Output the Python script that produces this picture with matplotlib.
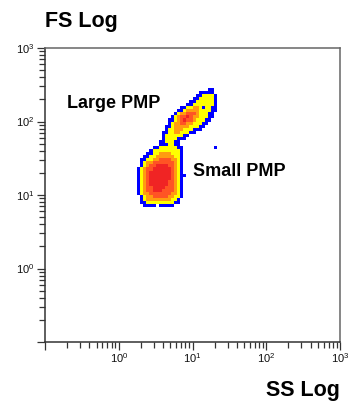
import numpy as np
import matplotlib
matplotlib.use("Agg")
import matplotlib.pyplot as plt
from matplotlib import font_manager
from matplotlib.colors import ListedColormap, BoundaryNorm
from matplotlib.ticker import LogLocator, FuncFormatter, NullFormatter, FixedLocator

# ---- data -------------------------------------------------------------
# Event density on a log grid (24 bins per decade). Each row gives the first
# occupied SS bin and the run of density levels from there
# (. = no events, 1..5 = increasing event density); rows go from high FS down.
bins_per_decade = 24
ss_first_bin = 6      # first SS bin edge, in bins above 10^0
fs_first_bin = 19     # lowest FS bin edge, in bins above 10^0
ss_bin_count = 27
event_density = [
    (0, ""),
    (23, "11"),
    (20, "11111"),
    (19, "1122221"),
    (18, "11222221"),
    (17, "112222221"),
    (16, "1122222221"),
    (14, "112233212211"),
    (13, "1123333222211"),
    (12, "1233444322211"),
    (11, "12344543322211"),
    (10, "11234544322211"),
    (10, "1233443322211"),
    (9, "1123333322211"),
    (9, "122333222111"),
    (8, "11223322211"),
    (8, "122222211"),
    (8, "12222111"),
    (7, "1122211"),
    (7, "1112211"),
    (5, "1122222211..........1"),
    (4, "12222222221"),
    (3, "112233332221"),
    (2, "1122333333221"),
    (1, "11223344443321"),
    (1, "12334444444321"),
    (1, "12344555544321"),
    (0, "123445555554321"),
    (0, "123455555554321"),
    (0, "1234555555543211"),
    (0, "123455555554321"),
    (0, "123455555544321"),
    (0, "123455555544321"),
    (0, "123445555444321"),
    (0, "123445554444321"),
    (0, "123344444443321"),
    (1, "12334444433221"),
    (1, "1233333333221"),
    (1, "1122222222211"),
    (2, "1111.11111"),
    (0, ""),
]

ss_ticks = [0.1, 1, 10, 100, 1000]
fs_ticks = [0.1, 1, 10, 100, 1000]
ss_range = (0.1, 1000)
fs_range = (0.1, 1000)

# ---- fonts ------------------------------------------------------------
installed = {f.name for f in font_manager.fontManager.ttflist}
narrow = "Liberation Sans Narrow" if "Liberation Sans Narrow" in installed else "Liberation Sans"
plt.rcParams["font.family"] = ["Liberation Sans", "DejaVu Sans"]
plt.rcParams["mathtext.fontset"] = "custom"
plt.rcParams["mathtext.rm"] = narrow
plt.rcParams["mathtext.it"] = narrow
plt.rcParams["mathtext.bf"] = narrow

# ---- density grid -------------------------------------------------------
grid = np.zeros((len(event_density), ss_bin_count), dtype=int)
for r, (start, run) in enumerate(event_density):
    for k, ch in enumerate(run):
        if ch != ".":
            grid[r, start + k] = int(ch)
grid = grid[::-1]  # lowest FS row first for pcolormesh
n_rows, n_cols = grid.shape
ss_edges = 10.0 ** (np.arange(ss_first_bin, ss_first_bin + n_cols + 1) / bins_per_decade)
fs_edges = 10.0 ** (np.arange(fs_first_bin, fs_first_bin + n_rows + 1) / bins_per_decade)
density = np.ma.masked_equal(grid, 0)

cmap = ListedColormap(["#0000ff", "#ffff00", "#ff9c10", "#ff5424", "#f02424"])
norm = BoundaryNorm([0.5, 1.5, 2.5, 3.5, 4.5, 5.5], cmap.N)

fig = plt.figure(figsize=(3.55, 4.07), dpi=100)
ax = fig.add_axes([45 / 355, 65 / 407, 295 / 355, 294 / 407])
ax.pcolormesh(ss_edges, fs_edges, density, cmap=cmap, norm=norm, shading="flat")

ax.set_xscale("log")
ax.set_yscale("log")
ax.set_xlim(*ss_range)
ax.set_ylim(*fs_range)

def pow_label(v, pos):
    e = int(round(np.log10(v)))
    if e < 0:
        return ""
    return r"$\mathregular{10^{%d}}$" % e

for axis, ticks in ((ax.xaxis, ss_ticks), (ax.yaxis, fs_ticks)):
    axis.set_major_locator(FixedLocator(ticks))
    axis.set_minor_locator(LogLocator(base=10, subs=np.arange(2, 10)))
    axis.set_major_formatter(FuncFormatter(pow_label))
    axis.set_minor_formatter(NullFormatter())

ax.tick_params(which="major", length=6, width=0.9, color="#333333",
               labelsize=8, pad=1.5, labelcolor="#111111")
ax.tick_params(axis="x", which="major", pad=0.5)
ax.tick_params(which="minor", length=4, width=0.9, color="#333333")

for side in ("left", "bottom"):
    ax.spines[side].set_color("#333333")
    ax.spines[side].set_linewidth(1.1)
for side in ("top", "right"):
    ax.spines[side].set_color("#666666")
    ax.spines[side].set_linewidth(1.1)

ax.text(0.2, 174, "Large PMP", fontsize=13, fontweight="bold", va="center", ha="left")
ax.text(10.1, 20.7, "Small PMP", fontsize=13, fontweight="bold", va="center", ha="left")

fig.text(45 / 355, 1 - 27 / 407, "FS Log", fontsize=15.5, fontweight="bold",
         ha="left", va="baseline")
fig.text(340 / 355, 11 / 407, "SS Log", fontsize=15.5, fontweight="bold",
         ha="right", va="baseline")

fig.savefig("out.png", dpi=100)
